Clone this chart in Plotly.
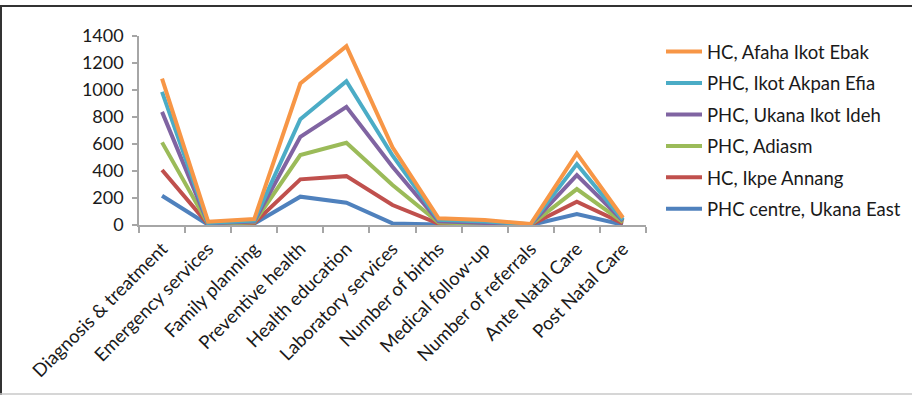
import plotly.graph_objects as go

categories = [
    "Diagnosis & treatment", "Emergency services", "Family planning",
    "Preventive health", "Health education", "Laboratory services",
    "Number of births", "Medical follow-up", "Number of referrals",
    "Ante Natal Care", "Post Natal Care",
]

# Plotted levels per facility (cumulative line positions)
ukana_east = [217, 2, 10, 210, 165, 12, 3, 2, 0, 81, 2]
ikpe_annang = [407, 5, 15, 338, 362, 148, 10, 6, 1, 173, 12]
adiasm = [612, 8, 20, 518, 609, 296, 18, 12, 2, 266, 22]
ukana_ikot_ideh = [838, 12, 26, 653, 875, 431, 27, 18, 3, 370, 30]
ikot_akpan_efia = [986, 16, 33, 784, 1065, 515, 38, 26, 5, 451, 38]
afaha_ikot_ebak = [1085, 25, 44, 1048, 1324, 575, 50, 37, 8, 530, 54]

series = [
    ("PHC centre, Ukana East", ukana_east, "#4F81BD"),
    ("HC, Ikpe Annang", ikpe_annang, "#C0504D"),
    ("PHC, Adiasm", adiasm, "#9BBB59"),
    ("PHC, Ukana Ikot Ideh", ukana_ikot_ideh, "#8064A2"),
    ("PHC, Ikot Akpan Efia", ikot_akpan_efia, "#4BACC6"),
    ("HC, Afaha Ikot Ebak", afaha_ikot_ebak, "#F79646"),
]

y_ticks = [0, 200, 400, 600, 800, 1000, 1200, 1400]

FONT = "Lato"
W, H = 912, 396
L, R, T, B = 139, 266, 36, 171

fig = go.Figure()
n = len(series)
for i, (name, vals, color) in enumerate(series):
    fig.add_trace(go.Scatter(
        x=categories, y=vals, name=name, mode="lines",
        legendgroup=name, legendrank=n - i,
        line=dict(color=color, width=4),
    ))

pw = W - L - R
ph = H - T - B


def px_x(p):
    return (p - L) / pw


def px_y(p):
    return (H - B - p) / ph


fig.update_layout(
    width=W, height=H,
    margin=dict(l=L, r=R, t=T, b=B, autoexpand=False),
    paper_bgcolor="white", plot_bgcolor="white",
    font=dict(family=FONT, size=17, color="#1a1a1a"),
    showlegend=True,
    legend=dict(
        x=px_x(661), y=px_y(33), xanchor="left", yanchor="top",
        traceorder="grouped", tracegroupgap=4.4, itemwidth=36,
        maxheight=380,
        font=dict(family=FONT, size=18.5, color="#1a1a1a"),
        bgcolor="rgba(0,0,0,0)",
    ),
    xaxis=dict(
        type="category", tickangle=-45, showgrid=False, automargin=False,
        range=[-0.5, len(categories) - 0.5],
        showline=True, linecolor="#a6a6a6", linewidth=1.5,
        ticks="outside", tickson="boundaries", ticklen=6,
        tickcolor="#a6a6a6", tickwidth=1.5,
        ticklabelstandoff=4,
        tickfont=dict(family=FONT, size=18.5, color="#1a1a1a"),
    ),
    yaxis=dict(
        range=[0, 1400], tickvals=y_ticks, showgrid=False, zeroline=False,
        automargin=False,
        showline=True, linecolor="#a6a6a6", linewidth=1.5,
        ticks="outside", ticklen=5, tickcolor="#a6a6a6", tickwidth=1.5,
        ticklabelstandoff=5,
        tickfont=dict(family=FONT, size=18, color="#1a1a1a"),
    ),
    shapes=[
        dict(type="line", xref="paper", yref="paper",
             x0=px_x(0), x1=px_x(W), y0=px_y(6), y1=px_y(6),
             line=dict(color="#333333", width=2)),
        dict(type="line", xref="paper", yref="paper",
             x0=px_x(1), x1=px_x(1), y0=px_y(6), y1=px_y(395),
             line=dict(color="#333333", width=2)),
        dict(type="line", xref="paper", yref="paper",
             x0=px_x(0), x1=px_x(W), y0=px_y(394), y1=px_y(394),
             line=dict(color="#c8c8c8", width=1.5)),
    ],
)

fig.write_html("out.html")
